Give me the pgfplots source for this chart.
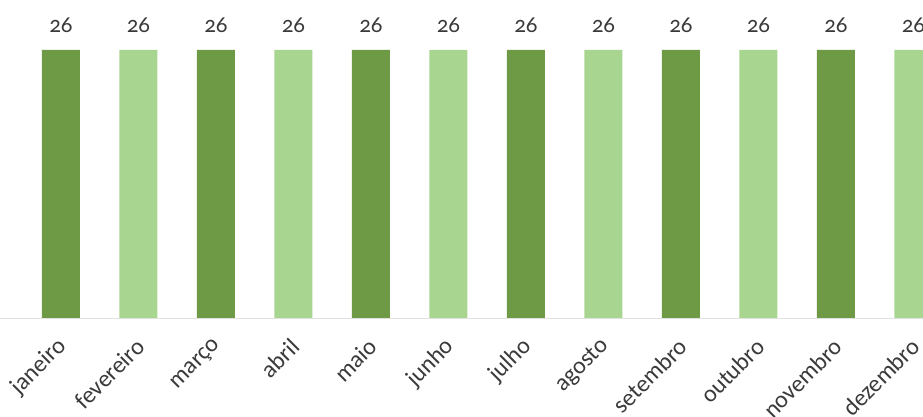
\documentclass[border=0pt]{standalone}
\usepackage{fontspec}
\setmainfont[Numbers=OldStyle]{Carlito}
\usepackage{pgfplots}
\pgfplotsset{compat=1.18}
\definecolor{darkg}{HTML}{6E9A45}
\definecolor{lightg}{HTML}{A8D590}
\definecolor{txt}{HTML}{3A3A3A}
\definecolor{axl}{HTML}{E2E2E2}
\begin{document}
\begin{tikzpicture}
\begin{axis}[
  at={(0,0)}, anchor=south west,
  scale only axis,
  width=461.5pt, height=159pt,
  xmin=-0.787, xmax=11.123,
  ymin=0, ymax=30.85,
  axis y line=none,
  axis x line*=bottom,
  x axis line style={draw=axl, -},
  xtick={0,1,2,3,4,5,6,7,8,9,10,11},
  xticklabels={janeiro,fevereiro,março,abril,maio,junho,julho,agosto,setembro,outubro,novembro,dezembro},
  major tick length=0pt,
  xticklabel style={xshift=3.5pt, yshift=-10pt, rotate=45, anchor=east, font=\fontsize{12}{14}\selectfont, text=txt},
  ybar, bar width=19pt, bar shift=0pt,
  nodes near coords,
  /pgf/number format/assume math mode=true,
  every node near coord/.append style={font=\fontsize{11.5}{13}\selectfont, text=txt, yshift=5pt},
]
\addplot[fill=darkg, draw=none] coordinates {(0,26) (2,26) (4,26) (6,26) (8,26) (10,26)};
\addplot[fill=lightg, draw=none] coordinates {(1,26) (3,26) (5,26) (7,26) (9,26) (11,26)};
\end{axis}
\pgfresetboundingbox
\useasboundingbox (0,-49.5pt) rectangle (461.5pt,159pt);
\end{tikzpicture}
\end{document}
